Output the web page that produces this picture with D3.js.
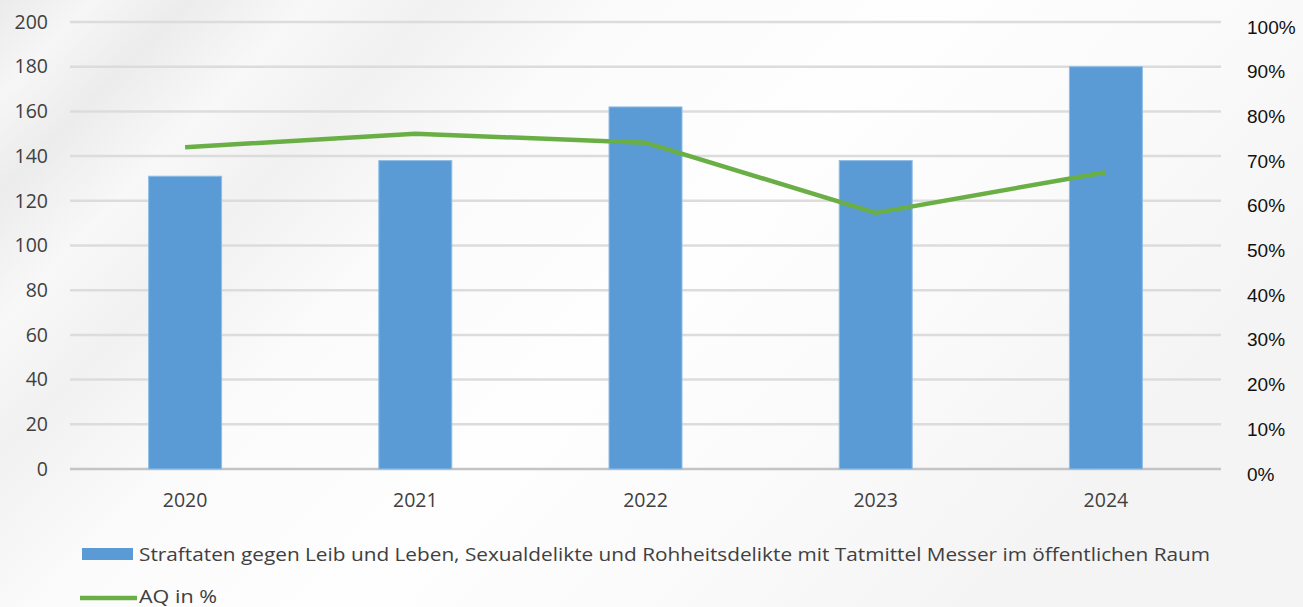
<!DOCTYPE html>
<html><head><meta charset="utf-8">
<script src="https://cdn.jsdelivr.net/npm/d3@7"></script>
<style>html,body{margin:0;padding:0;background:#f5f5f5;}svg{display:block;}</style>
</head><body>
<svg id="chart" width="1303" height="607"></svg>
<script>
const categories = ["2020","2021","2022","2023","2024"];
const cases = [131, 138, 162, 138, 180];
const aqPercent = [72, 75, 73, 57.3, 66.4];
const leftTicks = [0,20,40,60,80,100,120,140,160,180,200];
const rightTicks = [0,10,20,30,40,50,60,70,80,90,100];
const barLabel = "Straftaten gegen Leib und Leben, Sexualdelikte und Rohheitsdelikte mit Tatmittel Messer im öffentlichen Raum";
const lineLabel = "AQ in %";

const svg = d3.select("#chart");
const W = 1303, H = 607;
const m = {left:70, right:1221, top:22, bottom:469};

// background
const defs = svg.append("defs");
const g1 = defs.append("linearGradient").attr("id","bg").attr("x1","0").attr("y1","0").attr("x2","1").attr("y2","0.45");
[[0,"#ebebeb"],[0.06,"#f6f6f6"],[0.12,"#ececec"],[0.2,"#f8f8f8"],[0.28,"#f1f1f1"],[0.4,"#fbfbfb"],[0.6,"#fefefe"],[0.8,"#fafafa"],[1,"#f4f4f4"]]
  .forEach(([o,c])=>g1.append("stop").attr("offset",o).attr("stop-color",c));
svg.append("rect").attr("width",W).attr("height",H).attr("fill","url(#bg)");

const x = d3.scaleBand().domain(categories).range([m.left, m.right]).paddingInner(0.683).paddingOuter(0.3415);
const yL = d3.scaleLinear().domain([0,200]).range([m.bottom, m.top]);
const yR = d3.scaleLinear().domain([0,100]).range([m.bottom, m.top]);

// gridlines
svg.append("g").selectAll("line").data(leftTicks).join("line")
  .attr("x1", m.left).attr("x2", m.right)
  .attr("y1", d=>yL(d)).attr("y2", d=>yL(d))
  .attr("stroke", d=> d===0 ? "#c4c4c4" : "#dcdcdc").attr("stroke-width", 2.5);

// left axis
const axL = d3.axisLeft(yL).tickValues(leftTicks).tickSize(0).tickPadding(0);
const gl = svg.append("g").attr("transform","translate(48,0)").call(axL);
gl.select(".domain").remove();
gl.selectAll("text").attr("font-family","Open Sans").attr("font-size",19.5).attr("fill","#404040");

// right axis
const axR = d3.axisRight(yR).tickValues(rightTicks).tickSize(0).tickPadding(0).tickFormat(d=>d+"%");
const gr = svg.append("g").attr("transform","translate(1247,5)").call(axR);
gr.select(".domain").remove();
gr.selectAll("text").attr("font-family","Liberation Sans, Arial").attr("font-size",19).attr("fill","#111");

// x axis
const axX = d3.axisBottom(x).tickSize(0).tickPadding(0);
const gx = svg.append("g").attr("transform","translate(0,500)").call(axX);
gx.select(".domain").remove();
gx.selectAll("text").attr("dy","0.35em").attr("font-family","Open Sans").attr("font-size",19.5).attr("fill","#404040");

// bars
svg.append("g").selectAll("rect").data(cases).join("rect")
  .attr("x",(d,i)=>x(categories[i])).attr("width",x.bandwidth())
  .attr("y",d=>yL(d)).attr("height",d=>yL(0)-yL(d))
  .attr("fill","#5b9bd5").attr("stroke","#8fbde6").attr("stroke-width",1);

// line
const line = d3.line().x((d,i)=>x(categories[i])+x.bandwidth()/2).y(d=>yR(d));
svg.append("path").datum(aqPercent).attr("d",line)
  .attr("fill","none").attr("stroke","#6aaf45").attr("stroke-width",4.5).attr("stroke-linejoin","round");

// legend
svg.append("rect").attr("x",82).attr("y",548).attr("width",51).attr("height",12).attr("fill","#5b9bd5");
svg.append("text").attr("x",139).attr("y",561).text(barLabel)
  .attr("font-family","Open Sans").attr("font-size",19).attr("fill","#404040")
  .attr("textLength",1071).attr("lengthAdjust","spacingAndGlyphs");
svg.append("line").attr("x1",80).attr("x2",137).attr("y1",598).attr("y2",598).attr("stroke","#6aaf45").attr("stroke-width",4.5);
svg.append("text").attr("x",139).attr("y",603).text(lineLabel)
  .attr("font-family","Open Sans").attr("font-size",18).attr("fill","#404040")
  .attr("textLength",78).attr("lengthAdjust","spacingAndGlyphs");
</script>
</body></html>
